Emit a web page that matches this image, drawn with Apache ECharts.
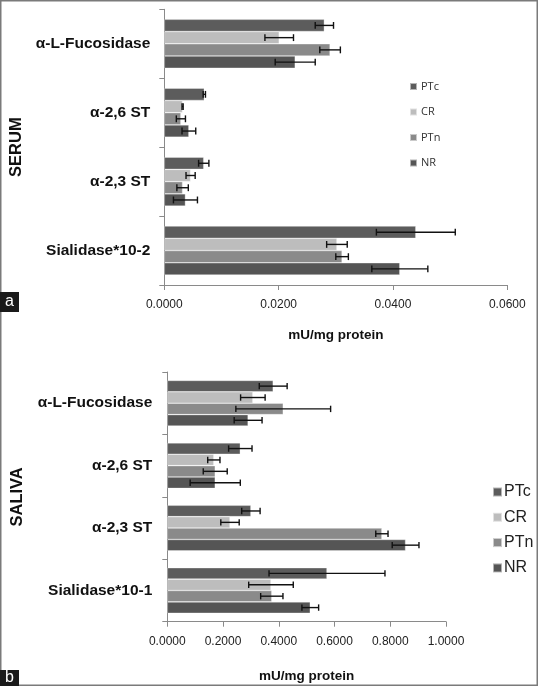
<!DOCTYPE html>
<html>
<head>
<meta charset="utf-8">
<script src="https://cdn.jsdelivr.net/npm/echarts@6/dist/echarts.min.js"></script>
<style>
html,body{margin:0;padding:0;background:#fff;}
#c{width:538px;height:686px;}
</style>
</head>
<body>
<div id="c"></div>
<script>
// ---------- data ----------
var seriesNames = ['PTc', 'CR', 'PTn', 'NR'];
var serumCategories = ['α-L-Fucosidase', 'α-2,6 ST', 'α-2,3 ST', 'Sialidase*10-2'];
var salivaCategories = ['α-L-Fucosidase', 'α-2,6 ST', 'α-2,3 ST', 'Sialidase*10-1'];

// serum (panel a) values and error half-widths, per category top-down
var serumPTc = [0.0280, 0.0070, 0.0069, 0.0440];
var serumCR  = [0.0201, 0.0032, 0.0046, 0.0302];
var serumPTn = [0.0290, 0.0029, 0.0032, 0.0311];
var serumNR  = [0.0229, 0.0043, 0.0037, 0.0412];
var serumPTcErr = [0.0016, 0.0002, 0.0009, 0.0069];
var serumCRErr  = [0.0025, 0.0001, 0.0008, 0.0018];
var serumPTnErr = [0.0018, 0.0008, 0.0010, 0.0011];
var serumNRErr  = [0.0035, 0.0012, 0.0021, 0.0049];

// saliva (panel b)
var salivaPTc = [0.380, 0.262, 0.300, 0.573];
var salivaCR  = [0.307, 0.167, 0.225, 0.372];
var salivaPTn = [0.416, 0.172, 0.770, 0.375];
var salivaNR  = [0.290, 0.172, 0.855, 0.513];
var salivaPTcErr = [0.050, 0.042, 0.033, 0.208];
var salivaCRErr  = [0.044, 0.022, 0.033, 0.080];
var salivaPTnErr = [0.170, 0.043, 0.022, 0.040];
var salivaNRErr  = [0.050, 0.090, 0.048, 0.030];

var serumTicks = {min: 0, max: 0.06, interval: 0.02};
var salivaTicks = {min: 0, max: 1.0, interval: 0.2};

// ---------- style ----------
var colors = {PTc: '#5c5c5c', CR: '#bdbdbd', PTn: '#8a8a8a', NR: '#555555'};
var FONT = 'Liberation Sans';
var gaps = [0.29, 0.27];

var serumVals = [serumPTc, serumCR, serumPTn, serumNR];
var serumErrs = [serumPTcErr, serumCRErr, serumPTnErr, serumNRErr];
var salivaVals = [salivaPTc, salivaCR, salivaPTn, salivaNR];
var salivaErrs = [salivaPTcErr, salivaCRErr, salivaPTnErr, salivaNRErr];

function errRenderer(sIdx, gap) {
  return function (params, api) {
    var v = api.value(0), cat = api.value(1), e = api.value(2);
    var band = api.size([0, 1])[1];
    var total = band * (1 - gap);
    var bw = total / 4;
    var c = api.coord([v, cat]);
    var y = c[1] - total / 2 + sIdx * bw + bw / 2;
    var x1 = api.coord([v - e, cat])[0];
    var x2 = api.coord([v + e, cat])[0];
    var h = bw * 0.28;
    var st = {stroke: '#111', lineWidth: 1.4};
    return {
      type: 'group',
      children: [
        {type: 'line', shape: {x1: x1, y1: y, x2: x2, y2: y}, style: st},
        {type: 'line', shape: {x1: x1, y1: y - h, x2: x1, y2: y + h}, style: st},
        {type: 'line', shape: {x1: x2, y1: y - h, x2: x2, y2: y + h}, style: st}
      ]
    };
  };
}

var series = [];
[[serumVals, serumErrs, 0], [salivaVals, salivaErrs, 1]].forEach(function (p) {
  var vals = p[0], errs = p[1], gi = p[2];
  seriesNames.forEach(function (n, i) {
    series.push({
      name: n, type: 'bar', xAxisIndex: gi, yAxisIndex: gi,
      data: vals[i], barGap: '0%', barCategoryGap: (gaps[gi] * 100) + '%',
      itemStyle: {color: colors[n], borderColor: 'rgba(255,255,255,0.55)', borderWidth: 0.6},
      silent: true, animation: false
    });
  });
  seriesNames.forEach(function (n, i) {
    series.push({
      type: 'custom', xAxisIndex: gi, yAxisIndex: gi,
      renderItem: errRenderer(i, gaps[gi]),
      encode: {x: 0, y: 1},
      data: vals[i].map(function (v, k) { return [v, k, errs[i][k]]; }),
      z: 10, silent: true, animation: false
    });
  });
});

function xAxisCfg(gi, t, margin, nameGap) {
  return {
    type: 'value', gridIndex: gi, min: t.min, max: t.max, interval: t.interval,
    name: 'mU/mg protein', nameLocation: 'middle', nameGap: nameGap,
    nameTextStyle: {fontFamily: FONT, fontWeight: 'bold', fontSize: 13.5, color: '#111'},
    axisLine: {show: true, lineStyle: {color: '#8a8a8a', width: 1}},
    axisTick: {show: true, length: 5, lineStyle: {color: '#8a8a8a'}},
    axisLabel: {fontFamily: FONT, fontSize: 12, color: '#222', margin: margin,
      formatter: function (v) { return v.toFixed(4); }},
    splitLine: {show: false}
  };
}
function yAxisCfg(gi, cats, name, nameGap, margin) {
  return {
    type: 'category', gridIndex: gi, data: cats, inverse: true,
    name: name, nameLocation: 'middle', nameRotate: 90, nameGap: nameGap,
    nameTextStyle: {fontFamily: FONT, fontWeight: 'bold', fontSize: 16.5, color: '#111'},
    axisLine: {show: true, lineStyle: {color: '#8a8a8a', width: 1}},
    axisTick: {show: true, length: 5, lineStyle: {color: '#8a8a8a'}},
    axisLabel: {fontFamily: FONT, fontWeight: 'bold', fontSize: 15.5, color: '#111', margin: margin}
  };
}

var option = {
  backgroundColor: '#fff',
  animation: false,
  grid: [
    {left: 164.3, right: 30.7, top: 9.3, bottom: 401, containLabel: false, outerBoundsMode: 'none'},
    {left: 167.3, right: 92, top: 372, bottom: 64.3, containLabel: false, outerBoundsMode: 'none'}
  ],
  xAxis: [xAxisCfg(0, serumTicks, 14, 43), xAxisCfg(1, salivaTicks, 14, 48)],
  yAxis: [yAxisCfg(0, serumCategories, 'SERUM', 135, 14), yAxisCfg(1, salivaCategories, 'SALIVA', 141, 15)],
  legend: [
    {data: seriesNames, orient: 'vertical', left: 404, top: 75, itemWidth: 7, itemHeight: 7,
      itemGap: 12.5, icon: 'rect', selectedMode: false,
      textStyle: {fontFamily: 'Open Sans', fontSize: 11, color: '#333', lineHeight: 13, padding: [0, 0, 0, -1]}},
    {data: seriesNames, orient: 'vertical', left: 487, top: 478, itemWidth: 9, itemHeight: 9,
      itemGap: 7.3, icon: 'rect', selectedMode: false,
      textStyle: {fontFamily: FONT, fontSize: 16, color: '#222', lineHeight: 18, padding: [0, 0, 0, -3]}}
  ],
  graphic: [
    {type: 'rect', shape: {x: 0.75, y: 0.75, width: 536.5, height: 684.5},
      style: {fill: 'none', stroke: '#7a7a7a', lineWidth: 1.5}, z: 100},
    {type: 'rect', shape: {x: 0, y: 292, width: 19, height: 20}, style: {fill: '#1a1a1a'}, z: 100},
    {type: 'text', x: 9.5, y: 302, style: {text: 'a', fill: '#fff', font: '16px Liberation Sans', align: 'center', verticalAlign: 'middle'}, z: 101},
    {type: 'rect', shape: {x: 0, y: 670, width: 19, height: 16}, style: {fill: '#1a1a1a'}, z: 100},
    {type: 'text', x: 9.5, y: 678, style: {text: 'b', fill: '#fff', font: '16px Liberation Sans', align: 'center', verticalAlign: 'middle'}, z: 101}
  ],
  series: series
};

var chart = echarts.init(document.getElementById('c'), null, {renderer: 'canvas'});
chart.setOption(option);
</script>
</body>
</html>
